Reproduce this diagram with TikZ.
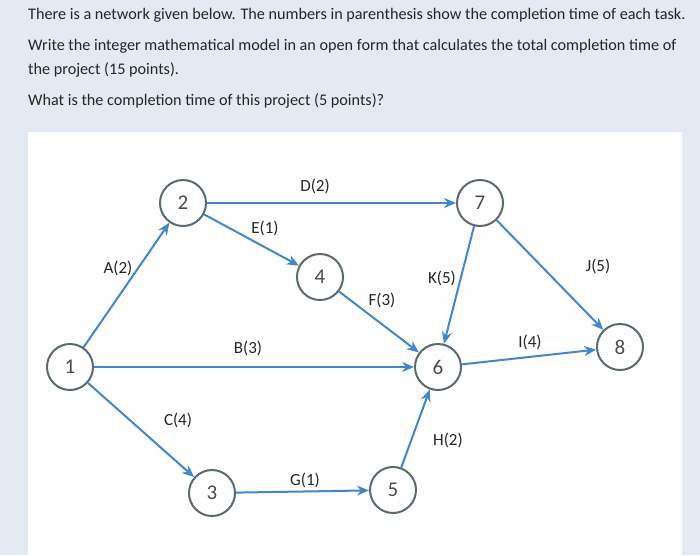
\documentclass[tikz,border=0pt]{standalone}
\usepackage{fontspec}
\setmainfont{Carlito}
\usetikzlibrary{arrows.meta}
\definecolor{bg}{HTML}{E4EAF1}
\definecolor{edge}{HTML}{3F86D6}
\definecolor{ring}{HTML}{5A6B70}
\begin{document}
\begin{tikzpicture}[x=1pt,y=-1pt,
  ev/.style={circle,draw=ring,line width=2pt,fill=white,minimum size=46pt,inner sep=0pt,font=\fontsize{21}{21}\selectfont,text=black!70},
  act/.style={draw=edge,line width=2pt,-{Stealth[length=12pt,width=10pt]}},
  lab/.style={font=\fontsize{17}{17}\selectfont,text=black!85},
  txt/.style={anchor=west,font=\fontsize{16.2}{16}\selectfont,text=black!85,inner sep=0pt}]
\fill[bg] (0,0) rectangle (700,555);
\fill[white] (28,132) rectangle (682,555);
\useasboundingbox (0,0) rectangle (700,555);
\node[txt] (t1) at (28,15) {There is a network given below. The numbers in parenthesis show the completion time of each task.};
\node[txt] (t2) at (28,46) {Write the integer mathematical model in an open form that calculates the total completion time of};
\node[txt] (t3) at (28,70) {the project (15 points).};
\node[txt] (t4) at (28,101) {What is the completion time of this project (5 points)?};
\node[ev] (n1) at (70,367) {1};
\node[ev] (n2) at (183,203) {2};
\node[ev] (n3) at (212,493) {3};
\node[ev] (n4) at (320,277) {4};
\node[ev] (n5) at (393,490) {5};
\node[ev] (n6) at (438,367) {6};
\node[ev] (n7) at (480,203) {7};
\node[ev] (n8) at (620,347) {8};
\draw[act] (n1) -- (n2);
\draw[act] (n1) -- (n6);
\draw[act] (n1) -- (n3);
\draw[act] (n2) -- (n7);
\draw[act] (n2) -- (n4);
\draw[act] (n4) -- (n6);
\draw[act] (n3) -- (n5);
\draw[act] (n5) -- (n6);
\draw[act] (n7) -- (n6);
\draw[act] (n7) -- (n8);
\draw[act] (n6) -- (n8);
\node[lab] (la) at (118,268) {A(2)};
\node[lab] (lb) at (248,348) {B(3)};
\node[lab] (lc) at (178,420) {C(4)};
\node[lab] (ld) at (315,186) {D(2)};
\node[lab] (le) at (265,228) {E(1)};
\node[lab] (lf) at (382,300) {F(3)};
\node[lab] (lg) at (305,480) {G(1)};
\node[lab] (lh) at (448,440) {H(2)};
\node[lab] (li) at (530,342) {I(4)};
\node[lab] (lj) at (598,266) {J(5)};
\node[lab] (lk) at (442,278) {K(5)};
\end{tikzpicture}
\end{document}
